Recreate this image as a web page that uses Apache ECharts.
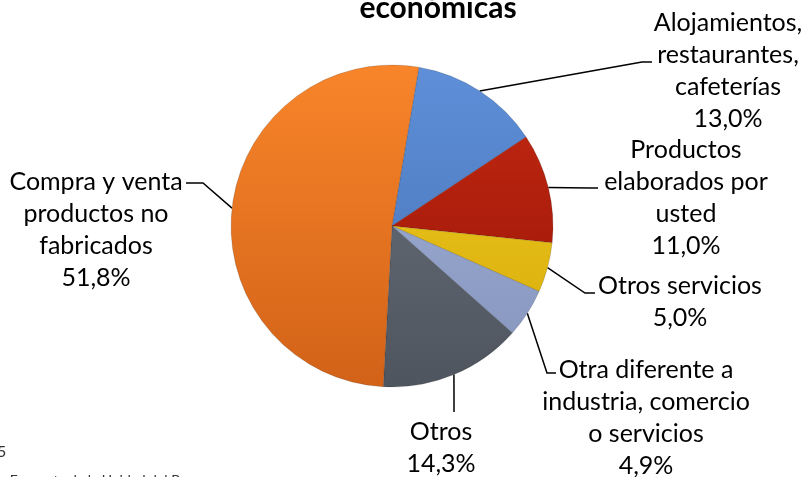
<!DOCTYPE html>
<html>
<head>
<meta charset="utf-8">
<script src="https://cdn.jsdelivr.net/npm/echarts@6/dist/echarts.min.js"></script>
<style>
html,body{margin:0;padding:0;background:#fff;}
#chart{width:803px;height:477px;}
</style>
</head>
<body>
<div id="chart"></div>
<script>
// ---- data ----
const categories = [
  "Alojamientos,\nrestaurantes,\ncafeterías",
  "Productos\nelaborados por\nusted",
  "Otros servicios",
  "Otra diferente a\nindustria, comercio\no servicios",
  "Otros",
  "Compra y venta\nproductos no\nfabricados"
];
const values = [13.0, 11.0, 5.0, 4.9, 14.3, 51.8];
const titleText = "económicas";
const footLines = ["5", "Fuente: Encuesta de la Unidad del Banco"];

// ---- styles / layout (not data) ----
const sliceColors = [
  ["#5E8FD8", "#4771B4"],
  ["#C42A12", "#961206"],
  ["#F4D024", "#D4A808"],
  ["#A4B3D9", "#8494BC"],
  ["#6C737E", "#4E555F"],
  ["#F8852A", "#D26218"]
];
// label block anchor (center x, top y) and bend points of leader lines
const labelPlace = [
  {x: 728, y: 7,   pts: [[642, 62], [652, 62]]},
  {x: 686, y: 134, pts: [[590, 188], [598, 188]]},
  {x: 680, y: 270, pts: [[585, 293], [595, 293]]},
  {x: 646, y: 354, pts: [[547, 373], [556, 373]]},
  {x: 441, y: 416, pts: [[454, 395], [454, 412]]},
  {x: 96,  y: 166, pts: [[203, 183], [186, 183]]}
];

const chart = echarts.init(document.getElementById('chart'), null, {renderer: 'canvas'});

const fmt = v => v.toFixed(1).replace('.', ',') + '%';

const seriesData = categories.map((c, i) => ({
  name: c,
  value: values[i],
  itemStyle: {
    color: new echarts.graphic.LinearGradient(0, 65, 0, 387, [
      {offset: 0, color: sliceColors[i][0]},
      {offset: 1, color: sliceColors[i][1]}
    ], true)
  }
}));

chart.setOption({
  backgroundColor: '#ffffff',
  animation: false,
  title: {
    text: titleText,
    left: 433,
    top: -12,
    textAlign: 'center',
    textStyle: {fontFamily: 'Lato', fontWeight: 'bold', fontSize: 30, color: '#000'}
  },
  graphic: [
    {type: 'text', x: -3, y: 444, style: {text: footLines[0], font: '16px Lato', fill: '#333'}},
    {type: 'text', x: -40, y: 473, style: {text: footLines[1], font: '14px Lato', fill: '#333'}}
  ],
  series: [{
    type: 'pie',
    center: [392, 226],
    radius: 161,
    startAngle: 80.4,
    clockwise: true,
    avoidLabelOverlap: false,
    itemStyle: {borderColor: 'rgba(0,0,0,0.25)', borderWidth: 0.6},
    label: {
      show: true,
      position: 'outside',
      formatter: p => p.name + '\n' + fmt(p.value),
      fontFamily: 'Lato',
      fontSize: 25,
      lineHeight: 32,
      color: '#000',
      align: 'center'
    },
    labelLine: {show: true, lineStyle: {color: '#000', width: 1.5}},
    labelLayout: function (params) {
      const lp = labelPlace[params.dataIndex];
      const start = params.labelLinePoints ? params.labelLinePoints[0] : lp.pts[0];
      return {
        x: lp.x,
        y: lp.y,
        align: 'center',
        verticalAlign: 'top',
        labelLinePoints: [start, lp.pts[0], lp.pts[1]]
      };
    },
    emphasis: {disabled: true},
    data: seriesData
  }]
});
</script>
</body>
</html>
